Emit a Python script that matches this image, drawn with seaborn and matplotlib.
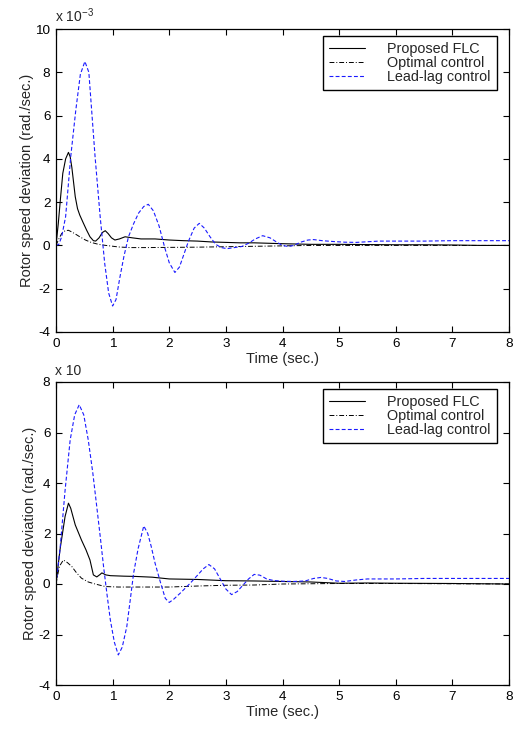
import matplotlib
matplotlib.use("Agg")
import matplotlib.pyplot as plt
import seaborn as sns
import pandas as pd

# ---------------- data (values x 10^-3 rad/sec) ----------------
series_names = ["Proposed FLC", "Optimal control", "Lead-lag control"]
x_ticks = [0, 1, 2, 3, 4, 5, 6, 7, 8]
y_ticks_top = [-4, -2, 0, 2, 4, 6, 8, 10]
y_ticks_bot = [-4, -2, 0, 2, 4, 6, 8]

# Top panel
top_flc_t = [0, 0.04, 0.08, 0.12, 0.17, 0.22, 0.25, 0.28, 0.34, 0.38, 0.42, 0.48, 0.54, 0.6,
             0.66, 0.7, 0.76, 0.82, 0.87, 0.92, 0.98, 1.04, 1.12, 1.22, 1.35, 1.5, 1.75, 2.0,
             2.25, 2.5, 2.75, 3.0, 3.25, 3.5, 3.75, 4.0, 4.5, 5.0, 5.5, 6.0, 6.5, 7.0, 7.5, 8.0]
top_flc_y = [0, 1.0, 2.2, 3.33, 4.0, 4.3, 4.1, 3.6, 2.25, 1.7, 1.4, 1.05, 0.71, 0.4,
             0.22, 0.2, 0.35, 0.6, 0.68, 0.55, 0.35, 0.25, 0.3, 0.4, 0.35, 0.3, 0.3, 0.25,
             0.22, 0.2, 0.16, 0.14, 0.12, 0.12, 0.1, 0.08, 0.05, 0.05, 0.04, 0.03, 0.03, 0.02, 0.0, 0.0]

top_opt_t = [0, 0.05, 0.1, 0.16, 0.22, 0.28, 0.34, 0.42, 0.52, 0.62, 0.75, 0.88, 0.98, 1.1,
             1.3, 1.6, 2.0, 2.5, 3.0, 3.5, 4.0, 4.5, 5.0, 6.0, 7.0, 8.0]
top_opt_y = [0, 0.3, 0.55, 0.68, 0.7, 0.62, 0.53, 0.4, 0.25, 0.14, 0.05, 0.0, -0.03, -0.07,
             -0.1, -0.1, -0.09, -0.08, -0.06, -0.04, -0.02, 0.0, 0.0, 0.0, 0.0, 0.0]

top_ll_t = [0, 0.05, 0.1, 0.17, 0.26, 0.35, 0.43, 0.51, 0.58, 0.69, 0.78, 0.86, 0.93, 1.0,
            1.06, 1.13, 1.2, 1.28, 1.37, 1.46, 1.55, 1.63, 1.72, 1.82, 1.92, 2.0, 2.1, 2.18,
            2.26, 2.34, 2.44, 2.53, 2.62, 2.72, 2.82, 2.92, 3.02, 3.15, 3.28, 3.4, 3.52, 3.65,
            3.78, 3.9, 4.0, 4.1, 4.2, 4.32, 4.45, 4.55, 4.7, 4.9, 5.1, 5.3, 5.5, 5.7, 6.0,
            6.5, 7.0, 7.5, 8.0]
top_ll_y = [0, 0.05, 0.4, 1.33, 4.1, 6.26, 7.9, 8.5, 8.0, 4.1, 1.33, -0.83, -2.2, -2.8,
            -2.5, -1.45, -0.5, 0.4, 1.0, 1.5, 1.8, 1.9, 1.6, 0.9, -0.1, -0.8, -1.25, -1.0,
            -0.4, 0.2, 0.8, 1.02, 0.8, 0.4, 0.05, -0.1, -0.15, -0.1, -0.05, 0.1, 0.3, 0.45,
            0.35, 0.15, 0.0, -0.05, 0.0, 0.15, 0.25, 0.27, 0.22, 0.18, 0.15, 0.14, 0.17, 0.2, 0.2,
            0.2, 0.22, 0.22, 0.22]

# Bottom panel
bot_flc_t = [0, 0.07, 0.16, 0.22, 0.26, 0.34, 0.45, 0.53, 0.6, 0.66, 0.72, 0.78, 0.81, 0.88,
             0.96, 1.2, 1.4, 1.7, 2.0, 2.5, 3.0, 3.5, 4.0, 4.5, 5.0, 5.5, 6.0, 7.0, 8.0]
bot_flc_y = [0, 1.35, 2.67, 3.2, 3.0, 2.34, 1.74, 1.35, 0.95, 0.36, 0.28, 0.38, 0.44, 0.36,
             0.33, 0.31, 0.3, 0.27, 0.2, 0.18, 0.13, 0.12, 0.1, 0.08, 0.03, 0.04, 0.03, 0.02, 0.0]

bot_opt_t = [0, 0.06, 0.13, 0.2, 0.28, 0.36, 0.45, 0.57, 0.69, 0.87, 1.1, 1.5, 2.0, 2.5,
             3.0, 3.5, 4.0, 5.0, 6.0, 7.0, 8.0]
bot_opt_y = [0, 0.7, 0.95, 0.85, 0.69, 0.45, 0.23, 0.08, 0.0, -0.1, -0.12, -0.12, -0.12, -0.08,
             -0.05, -0.04, 0.0, 0.02, 0.02, 0.01, 0.0]

bot_ll_t = [0, 0.07, 0.16, 0.25, 0.33, 0.41, 0.49, 0.57, 0.65, 0.72, 0.78, 0.84, 0.9, 0.96,
            1.03, 1.1, 1.17, 1.25, 1.31, 1.37, 1.45, 1.55, 1.62, 1.68, 1.75, 1.84, 1.93, 2.0,
            2.08, 2.2, 2.37, 2.5, 2.6, 2.7, 2.8, 2.9, 3.0, 3.1, 3.2, 3.3, 3.4, 3.5, 3.6, 3.72,
            3.84, 4.0, 4.2, 4.4, 4.55, 4.68, 4.8, 4.95, 5.1, 5.3, 5.5, 6.0, 6.5, 7.0, 7.5, 8.0]
bot_ll_y = [0, 1.35, 3.7, 5.7, 6.7, 7.1, 6.7, 5.7, 4.4, 3.06, 1.9, 0.69, -0.4, -1.43,
            -2.3, -2.81, -2.5, -1.69, -0.65, 0.42, 1.4, 2.3, 2.0, 1.5, 0.82, 0.1, -0.57, -0.73,
            -0.6, -0.35, 0.03, 0.35, 0.6, 0.77, 0.6, 0.2, -0.2, -0.42, -0.3, -0.05, 0.2, 0.38, 0.35, 0.2,
            0.14, 0.11, 0.1, 0.12, 0.22, 0.26, 0.22, 0.12, 0.1, 0.16, 0.2, 0.2, 0.22, 0.22, 0.22, 0.22]

# ---------------- styling ----------------
sns.set_style("ticks")
plt.rcParams["font.family"] = ["Liberation Sans", "DejaVu Sans"]
plt.rcParams["font.size"] = 10
plt.rcParams["axes.unicode_minus"] = False
plt.rcParams["mathtext.fontset"] = "custom"
plt.rcParams["mathtext.rm"] = "Liberation Sans"

styles = {
    "Proposed FLC": dict(color="black", linestyle="-", lw=0.8),
    "Optimal control": dict(color="black", linestyle=(0, (5, 2, 1, 2)), lw=0.7),
    "Lead-lag control": dict(color="#1a1aff", linestyle=(0, (3.5, 2)), lw=0.8),
}

fig = plt.figure(figsize=(5.23, 7.29), dpi=100)
ax_top = fig.add_axes([56 / 523, 1 - 332 / 729, 453 / 523, 303 / 729])
ax_bot = fig.add_axes([56 / 523, 1 - 685 / 729, 453 / 523, 303 / 729])

panels = [
    (ax_top, [(top_flc_t, top_flc_y), (top_opt_t, top_opt_y), (top_ll_t, top_ll_y)],
     (-4, 10), y_ticks_top, r"x 10$^{\mathregular{-3}}$"),
    (ax_bot, [(bot_flc_t, bot_flc_y), (bot_opt_t, bot_opt_y), (bot_ll_t, bot_ll_y)],
     (-4, 8), y_ticks_bot, "x 10"),
]

for ax, data, ylim, yticks, exp_text in panels:
    for name, (t, y) in zip(series_names, data):
        df = pd.DataFrame({"t": t, "y": y})
        sns.lineplot(data=df, x="t", y="y", ax=ax, label=name, estimator=None,
                     sort=False, **styles[name])
    ax.set_xlim(0, 8)
    ax.set_ylim(*ylim)
    ax.set_xticks(x_ticks)
    ax.set_yticks(yticks)
    ax.set_xlabel("Time (sec.)", fontsize=10.5, labelpad=2)
    ax.set_ylabel("Rotor speed deviation (rad./sec.)", fontsize=10.5, labelpad=1)
    ax.tick_params(direction="in", length=4, width=0.8, top=True, right=True,
                   labelsize=9.7, colors="black", pad=4)
    for sp in ax.spines.values():
        sp.set_visible(True)
        sp.set_color("black")
        sp.set_linewidth(0.9)
    ax.text(-0.003, 1.012, exp_text, transform=ax.transAxes, fontsize=10,
            ha="left", va="bottom")
    leg = ax.legend(loc="upper right", bbox_to_anchor=(0.9735, 0.977), borderaxespad=0,
                    fontsize=10.4, frameon=True, fancybox=False, handlelength=2.5,
                    handletextpad=1.5, labelspacing=-0.02, borderpad=0.45)
    leg.get_frame().set_edgecolor("black")
    leg.get_frame().set_linewidth(1.0)
    leg.get_frame().set_alpha(1)

fig.savefig("out.png", dpi=100)
